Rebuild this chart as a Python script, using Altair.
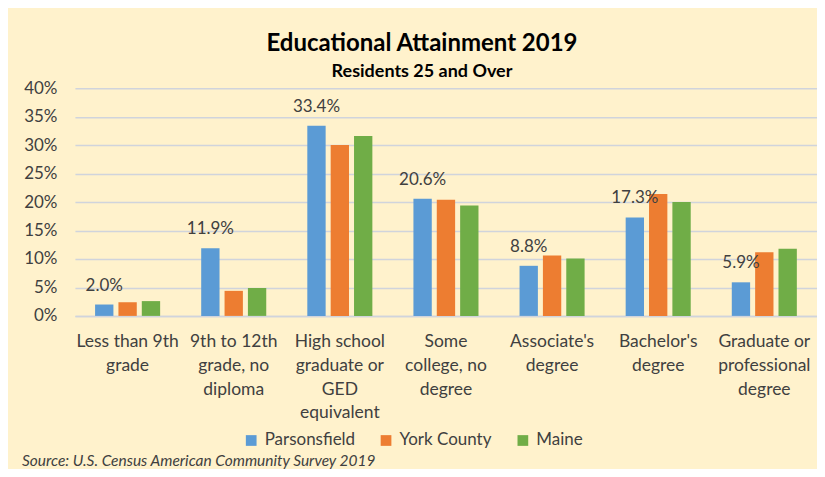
import altair as alt
import pandas as pd

categories = [
    "Less than 9th\ngrade",
    "9th to 12th\ngrade, no\ndiploma",
    "High school\ngraduate or\nGED\nequivalent",
    "Some\ncollege, no\ndegree",
    "Associate's\ndegree",
    "Bachelor's\ndegree",
    "Graduate or\nprofessional\ndegree",
]
series = ["Parsonsfield", "York County", "Maine"]
parsonsfield = [2.0, 11.9, 33.4, 20.6, 8.8, 17.3, 5.9]
york_county = [2.4, 4.4, 30.0, 20.4, 10.6, 21.4, 11.2]
maine = [2.6, 4.9, 31.6, 19.4, 10.1, 20.0, 11.8]
colors = ["#5B9BD5", "#ED7D31", "#70AD47"]
y_ticks = [0, 5, 10, 15, 20, 25, 30, 35, 40]
source_note = ["Source: U.S. Census American Community Survey 2019"]

rows = []
for s, vals in zip(series, [parsonsfield, york_county, maine]):
    for c, v in zip(categories, vals):
        rows.append({"category": c, "series": s, "value": v})
df = pd.DataFrame(rows)

FONT = "Lato"
TXT = "#404040"

x_enc = alt.X(
    "category:N",
    sort=categories,
    scale=alt.Scale(paddingInner=0.387, paddingOuter=0.19),
    axis=alt.Axis(
        title=None,
        labelAngle=0,
        labelExpr="split(datum.label, '\\n')",
        labelFontSize=17.5,
        labelFont=FONT,
        labelColor=TXT,
        labelLineHeight=23.7,
        labelBaseline="top",
        labelPadding=17,
        ticks=False,
        domainColor="#D0D4DC",
        domainWidth=1.5,
        labelLimit=200,
    ),
)
xoff_enc = alt.XOffset(
    "series:N", sort=series,
    scale=alt.Scale(domain=series, paddingInner=0.215, paddingOuter=0),
)
y_enc = alt.Y(
    "value:Q",
    scale=alt.Scale(domain=[0, 40], nice=False),
    axis=alt.Axis(
        title=None,
        values=y_ticks,
        tickCount=len(y_ticks) + 1,
        labelExpr="datum.value + '%'",
        labelOverlap=False,
        labelFontSize=17,
        labelFont=FONT,
        labelColor=TXT,
        labelPadding=18,
        ticks=False,
        domain=False,
        gridColor="#D0D4DC",
        gridWidth=1.5,
    ),
)

bars = alt.Chart(df).mark_bar().encode(
    x=x_enc,
    xOffset=xoff_enc,
    y=y_enc,
    color=alt.Color(
        "series:N",
        sort=series,
        scale=alt.Scale(domain=series, range=colors),
        legend=alt.Legend(
            title=None,
            orient="none",
            direction="horizontal",
            legendX=168,
            legendY=344,
            symbolType="square",
            symbolSize=115,
            symbolStrokeWidth=0,
            labelFontSize=17,
            labelFont=FONT,
            labelColor=TXT,
            labelOffset=5,
            columnPadding=22,
        ),
    ),
)

labels = alt.Chart(df).transform_filter(
    "datum.series == 'Parsonsfield'"
).transform_calculate(
    lbl="format(datum.value, '.1f') + '%'"
).mark_text(
    fontSize=17, font=FONT, color=TXT, dy=-19, baseline="middle"
).encode(
    x=x_enc,
    xOffset=xoff_enc,
    y=y_enc,
    text="lbl:N",
)

note = alt.Chart(pd.DataFrame({"note": source_note})).mark_text(
    fontSize=15.5, font=FONT, fontStyle="italic", color=TXT, align="left", baseline="alphabetic"
).encode(
    x=alt.value(-53),
    y=alt.value(378),
    text="note:N",
)

chart = alt.layer(bars, labels, note).properties(
    width=743,
    height=228,
    padding={"left": 67, "top": 80, "right": 0, "bottom": 153},
    autosize=alt.AutoSizeParams(type="none"),
    background="#FFF2CC",
    title=alt.TitleParams(
        text="Educational Attainment 2019",
        subtitle="Residents 25 and Over",
        anchor="middle",
        dx=-24,
        offset=-2,
        font=FONT,
        fontSize=24,
        fontWeight="bold",
        color="#000000",
        subtitleFont=FONT,
        subtitleFontSize=18,
        subtitleFontWeight="bold",
        subtitleColor="#000000",
        subtitlePadding=7,
    ),
).configure_view(stroke=None)

chart.save("out.html", embed_options={"renderer": "svg", "actions": False})
